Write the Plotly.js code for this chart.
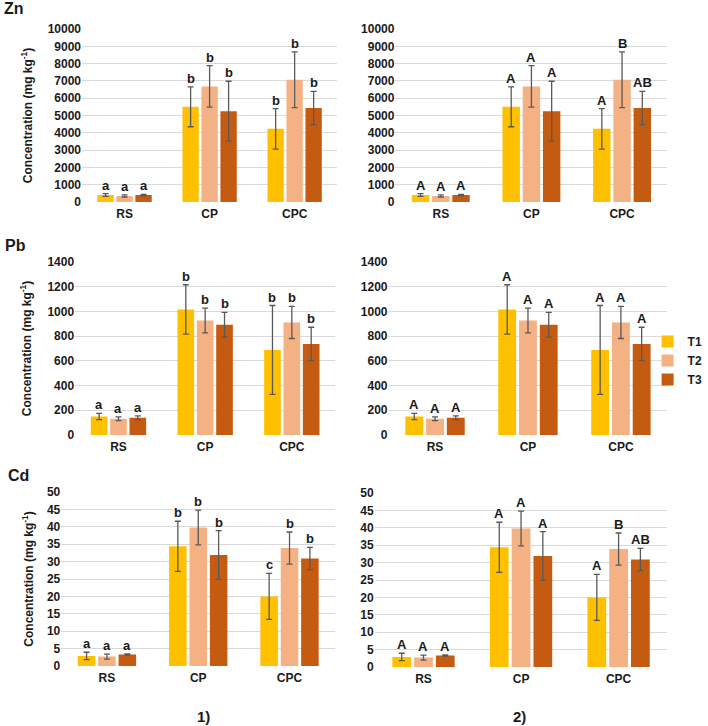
<!DOCTYPE html>
<html>
<head>
<meta charset="utf-8">
<script src="https://cdn.plot.ly/plotly-3.0.1.min.js"></script>
<style>html,body{margin:0;padding:0;background:#fff}#chart{width:708px;height:726px}</style>
</head>
<body>
<div id="chart"></div>
<script>
// ---------- data ----------
const categories = ['RS', 'CP', 'CPC'];
const treatments = ['T1', 'T2', 'T3'];
const colors = ['#FFC000', '#F4B183', '#C55A11'];

// Zn (mg kg-1)
const znT1 = [400, 5500, 4230];
const znT2 = [350, 6680, 7070];
const znT3 = [400, 5250, 5430];
const znT1Err = [80, 1150, 1170];
const znT2Err = [60, 1200, 1610];
const znT3Err = [40, 1730, 960];

// Pb (mg kg-1)
const pbT1 = [150, 1016, 688];
const pbT2 = [132, 927, 911];
const pbT3 = [140, 892, 737];
const pbT1Err = [25, 200, 360];
const pbT2Err = [15, 100, 130];
const pbT3Err = [15, 100, 135];

// Cd (mg kg-1)
const cdT1 = [2.9, 34.4, 20.0];
const cdT2 = [2.7, 39.8, 33.9];
const cdT3 = [3.3, 31.9, 30.9];
const cdT1Err = [1.05, 7.2, 6.6];
const cdT2Err = [0.7, 5.0, 4.6];
const cdT3Err = [0.15, 7.0, 3.2];

// significance letters (per treatment, per category)
const znLettersLeft  = [['a','b','b'], ['a','b','b'], ['a','b','b']];
const znLettersRight = [['A','A','A'], ['A','A','B'], ['A','A','AB']];
const pbLettersLeft  = [['a','b','b'], ['a','b','b'], ['a','b','b']];
const pbLettersRight = [['A','A','A'], ['A','A','A'], ['A','A','A']];
const cdLettersLeft  = [['a','b','c'], ['a','b','b'], ['a','b','b']];
const cdLettersRight = [['A','A','A'], ['A','A','B'], ['A','A','AB']];

const panelLabels = ['1)', '2)'];
const metalLabels = ['Zn', 'Pb', 'Cd'];
const yTitle = 'Concentration (mg kg<sup>-1</sup>)';

// ---------- layout helpers ----------
const W = 708, H = 726;
const FONT = 'Liberation Sans, Arial, sans-serif';
const TXT = '#1a1a1a';
const bargap = 0.33, bargroupgap = 0.14;
const slot = (1 - bargap) / 3;

const metals = [
  {vals: [znT1, znT2, znT3], errs: [znT1Err, znT2Err, znT3Err], letters: [znLettersLeft, znLettersRight], range: [0, 10000], dtick: 1000,
   boxes: [[83, 341, 29, 202], [400, 675, 29, 202]]},
  {vals: [pbT1, pbT2, pbT3], errs: [pbT1Err, pbT2Err, pbT3Err], letters: [pbLettersLeft, pbLettersRight], range: [0, 1400], dtick: 200,
   boxes: [[76, 339, 262, 435], [393, 675, 262, 435]]},
  {vals: [cdT1, cdT2, cdT3], errs: [cdT1Err, cdT2Err, cdT3Err], letters: [cdLettersLeft, cdLettersRight], range: [0, 50], dtick: 5,
   boxes: [[62, 339, 492, 666], [379, 675, 493, 667]]}
];
const metalLabelPos = [[2, 8], [3, 245], [6, 475]];
const yTitleX = [28, 27, 28];

const data = [];
const layout = {
  width: W, height: H,
  margin: {l: 0, r: 0, t: 0, b: 0},
  paper_bgcolor: '#ffffff', plot_bgcolor: '#ffffff',
  font: {family: FONT, size: 12, color: TXT, weight: 'bold'},
  barmode: 'group', bargap: bargap, bargroupgap: bargroupgap,
  showlegend: true,
  legend: {x: 655 / W, y: 1 - 327 / H, xanchor: 'left', yanchor: 'top',
           font: {family: FONT, size: 12, color: TXT, weight: 'bold'}, bgcolor: 'rgba(0,0,0,0)', itemwidth: 30, tracegroupgap: 0},
  annotations: [], shapes: []
};

let n = 0;
metals.forEach((m, mi) => {
  m.boxes.forEach((b, side) => {
    n += 1;
    const xa = n === 1 ? 'x' : 'x' + n;
    const ya = n === 1 ? 'y' : 'y' + n;
    const xKey = n === 1 ? 'xaxis' : 'xaxis' + n;
    const yKey = n === 1 ? 'yaxis' : 'yaxis' + n;
    layout[xKey] = {
      domain: [b[0] / W, b[1] / W], anchor: ya,
      range: [-0.5, 2.5], tickvals: [0, 1, 2], ticktext: categories,
      showgrid: false, zeroline: false, showline: false, ticks: '', ticklabelstandoff: 3,
      tickfont: {family: FONT, size: 12, color: TXT, weight: 'bold'}, fixedrange: true
    };
    layout[yKey] = {
      domain: [1 - b[3] / H, 1 - b[2] / H], anchor: xa,
      range: m.range, dtick: m.dtick, tick0: 0, tickformat: 'd',
      showgrid: true, gridcolor: '#d9d9d9', gridwidth: 1,
      zeroline: false, showline: false, ticks: '',
      tickfont: {family: FONT, size: 12, color: TXT, weight: 'bold'}, fixedrange: true
    };
    treatments.forEach((t, ti) => {
      data.push({
        type: 'bar', name: t, x: [0, 1, 2], y: m.vals[ti],
        xaxis: xa, yaxis: ya,
        marker: {color: colors[ti], line: {width: 0}},
        error_y: {type: 'data', array: m.errs[ti], visible: true, color: '#595959', thickness: 1.3, width: 3},
        showlegend: (mi === 1 && side === 1), legendgroup: t, hoverinfo: 'skip'
      });
      const lets = m.letters[side][ti];
      [0, 1, 2].forEach(ci => {
        layout.annotations.push({
          xref: xa, yref: ya, x: ci + (ti - 1) * slot, y: m.vals[ti][ci] + m.errs[ti][ci],
          text: lets[ci], showarrow: false, xanchor: 'center', yanchor: 'bottom', yshift: -1,
          font: {family: FONT, size: 13, color: TXT, weight: 'bold'}
        });
      });
    });
    if (side === 0) {
      layout.annotations.push({
        xref: 'paper', yref: 'paper', x: yTitleX[mi] / W, y: 1 - ((b[2] + b[3]) / 2) / H,
        text: yTitle, textangle: -90, showarrow: false, xanchor: 'center', yanchor: 'middle',
        font: {family: FONT, size: 12, color: TXT, weight: 'bold'}
      });
    }
  });
  layout.annotations.push({
    xref: 'paper', yref: 'paper', x: metalLabelPos[mi][0] / W, y: 1 - metalLabelPos[mi][1] / H,
    text: metalLabels[mi], showarrow: false, xanchor: 'left', yanchor: 'middle',
    font: {family: FONT, size: 16, color: TXT, weight: 'bold'}
  });
});

[206, 525].forEach((px, i) => {
  layout.annotations.push({
    xref: 'paper', yref: 'paper', x: px / W, y: 1 - 716 / H,
    text: panelLabels[i], showarrow: false, xanchor: 'center', yanchor: 'middle',
    font: {family: FONT, size: 15, color: TXT, weight: 'bold'}
  });
});

Plotly.newPlot('chart', data, layout, {displayModeBar: false, staticPlot: true});
</script>
</body>
</html>
